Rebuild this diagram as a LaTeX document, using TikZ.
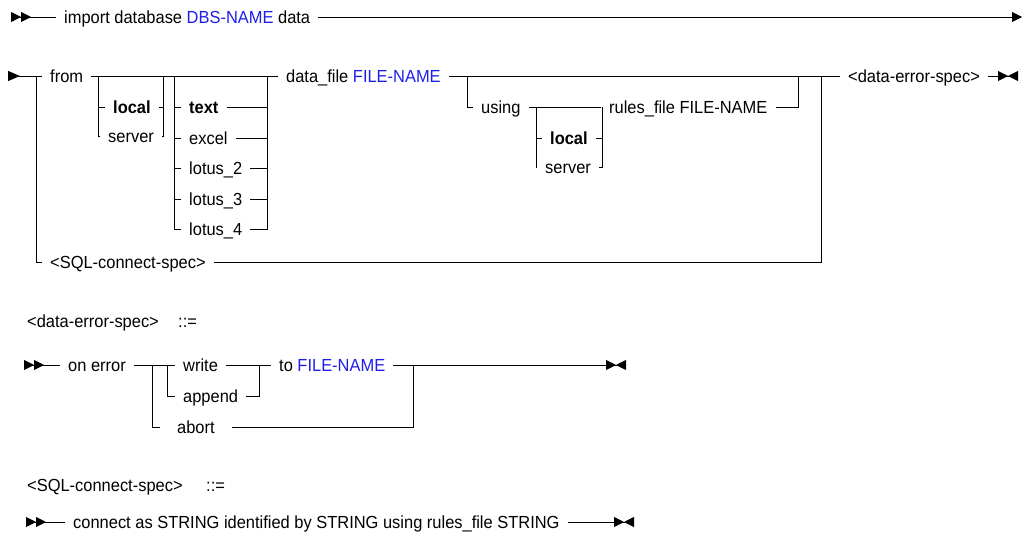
\documentclass[tikz,border=0pt]{standalone}
\usepackage{fontspec}
\setmainfont[FakeStretch=0.94]{Liberation Sans}
\usetikzlibrary{arrows.meta}
\definecolor{argblue}{RGB}{30,30,235}

\begin{document}
\begin{tikzpicture}[
    x=1pt, y=-1pt, % work in pixels, y pointing down
    rail/.style={line width=0.9pt},
    term/.style={font=\fontsize{17.5}{19}\selectfont, anchor=west,
        inner xsep=8pt, inner ysep=0pt, text height=14pt, text depth=2pt},
    kw/.style={term, font=\fontsize{17.5}{19}\selectfont\bfseries},
    startmark/.style={rail, {Triangle[reversed,length=10pt,width=10pt]Triangle[reversed,length=10pt,width=10pt]}-},
    contmark/.style={rail, {Triangle[reversed,length=12pt,width=10pt]}-},
    nextmark/.style={rail, -{Triangle[length=10pt,width=10pt]}},
    endmark/.style={rail, -{Triangle[length=10pt,width=10pt]Triangle[reversed,length=10pt,width=10pt]}}
]
    \useasboundingbox (0,0) rectangle (1024,536);

    % Line 1: import database
    \coordinate (s1) at (11,17);
    \node[term] (import) at (56,17) {import database \textcolor{argblue}{DBS-NAME} data};
    \coordinate (e1) at (1022,17);
    \draw[startmark] (s1) -- (import.west);
    \draw[nextmark] (import.east) -- (e1);

    % Line 2: where the data comes from
    \coordinate (s2) at (8,76);
    \coordinate (j1) at (36,76);
    \node[term] (from) at (42,76) {from};
    \node[term] (sqlspec) at (42,262) {<SQL-connect-spec>};
    \draw[contmark] (s2) -- (from.west);
    \draw[rail] (j1) |- (sqlspec.west);

    % local / server
    \coordinate (loc1l) at (98,76);
    \coordinate (loc1r) at (163,76);
    \node[kw] (local1) at (105,107) {local};
    \node[term] (server1) at (100,136) {server};
    \draw[rail] (loc1l) |- (server1.west);
    \draw[rail] (loc1l |- local1) -- (local1.west);
    \draw[rail] (local1.east) -| (loc1r);
    \draw[rail] (server1.east) -| (loc1r);

    % file formats
    \coordinate (fmtl) at (174,76);
    \coordinate (fmtr) at (267,76);
    \node[kw] (fmttext) at (181,107) {text};
    \node[term] (excel) at (181,138) {excel};
    \node[term] (lotus2) at (181,168) {lotus\_2};
    \node[term] (lotus3) at (181,199) {lotus\_3};
    \node[term] (lotus4) at (181,229) {lotus\_4};
    \draw[rail] (fmtl) |- (lotus4.west);
    \foreach \n in {fmttext,excel,lotus2,lotus3}
        \draw[rail] (fmtl |- \n) -- (\n.west);
    \foreach \n in {fmttext,excel,lotus2,lotus3,lotus4}
        \draw[rail] (\n.east) -| (fmtr);

    \node[term] (datafile) at (278,76) {data\_file \textcolor{argblue}{FILE-NAME}};
    \node[term] (errspec) at (840,76) {<data-error-spec>};
    \coordinate (m1) at (821,76);
    \coordinate (e2) at (1018,76);
    \draw[rail] (from.east) -- (datafile.west);
    \draw[rail] (datafile.east) -- (errspec.west);
    \draw[rail] (sqlspec.east) -| (m1);
    \draw[endmark] (errspec.east) -- (e2);

    % optional rules file
    \coordinate (u1) at (467,76);
    \coordinate (u2) at (798,76);
    \node[term] (using) at (473,107) {using};
    \node[term] (rules) at (601,107) {rules\_file FILE-NAME};
    \draw[rail] (u1) |- (using.west);
    \draw[rail] (using.east) -- (rules.west);
    \draw[rail] (rules.east) -| (u2);

    \coordinate (loc2l) at (536,107);
    \coordinate (loc2r) at (602,107);
    \node[kw] (local2) at (542,138) {local};
    \node[term] (server2) at (537,167) {server};
    \draw[rail] (loc2l) |- (server2.west);
    \draw[rail] (loc2l |- local2) -- (local2.west);
    \draw[rail] (local2.east) -| (loc2r);
    \draw[rail] (server2.east) -| (loc2r);

    % <data-error-spec>
    \node[term] (errdef) at (19,321) {<data-error-spec>};
    \node[term] (errdefeq) at (170,321) {::=};

    \coordinate (s3) at (24,365);
    \coordinate (o1) at (152,365);
    \coordinate (o2) at (167,365);
    \coordinate (o3) at (259,365);
    \coordinate (o4) at (413,365);
    \coordinate (e3) at (626,365);
    \node[term] (onerror) at (60,365) {on error};
    \node[term] (write) at (175,365) {write};
    \node[term] (append) at (175,396) {append};
    \node[term, inner xsep=17pt] (abort) at (160,427) {abort};
    \node[term] (tofile) at (271,365) {to \textcolor{argblue}{FILE-NAME}};
    \draw[startmark] (s3) -- (onerror.west);
    \draw[rail] (onerror.east) -- (write.west);
    \draw[rail] (o1) |- (abort.west);
    \draw[rail] (o2) |- (append.west);
    \draw[rail] (write.east) -- (tofile.west);
    \draw[rail] (append.east) -| (o3);
    \draw[rail] (abort.east) -| (o4);
    \draw[endmark] (tofile.east) -- (e3);

    % <SQL-connect-spec>
    \node[term] (sqldef) at (19,485) {<SQL-connect-spec>};
    \node[term] (sqldefeq) at (198,485) {::=};

    \coordinate (s4) at (26,522);
    \coordinate (e4) at (634,522);
    \node[term] (connect) at (65,522) {connect as STRING identified by STRING using rules\_file STRING};
    \draw[startmark] (s4) -- (connect.west);
    \draw[endmark] (connect.east) -- (e4);

\end{tikzpicture}
\end{document}
